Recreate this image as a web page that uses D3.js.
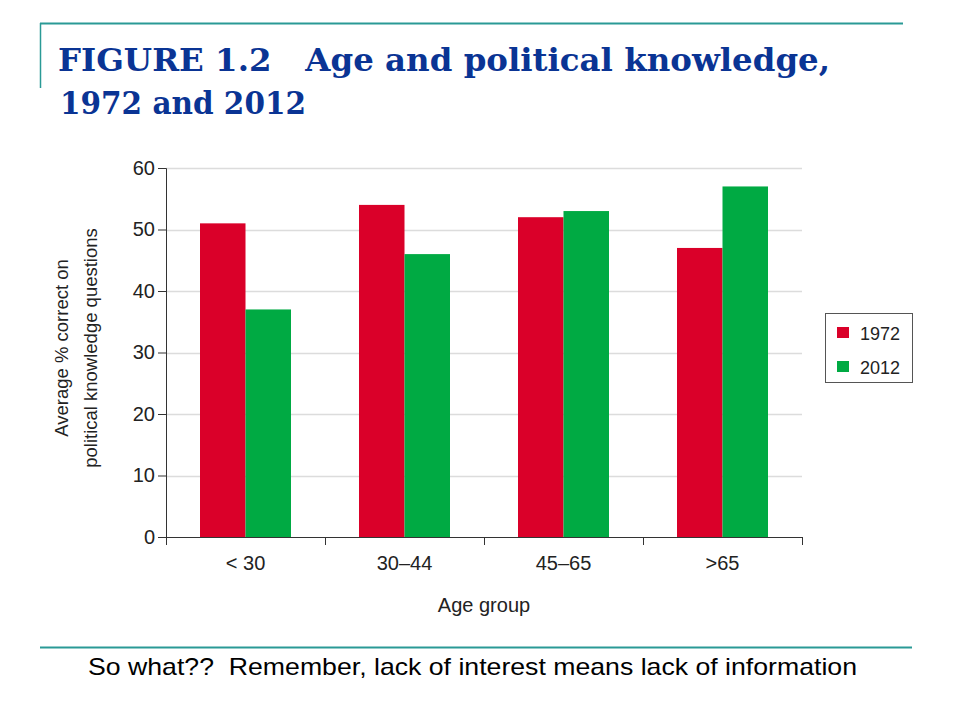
<!DOCTYPE html>
<html><head><meta charset="utf-8">
<script src="https://cdn.jsdelivr.net/npm/d3@7"></script>
<style>body{margin:0;background:#fff}</style>
</head><body>
<svg id="c" width="960" height="720"></svg>
<script>
const categories = ["< 30", "30–44", "45–65", ">65"];
const seriesNames = ["1972", "2012"];
const values1972 = [51, 54, 52, 47];
const values2012 = [37, 46, 53, 57];
const yTicks = [0, 10, 20, 30, 40, 50, 60];
const colors = ["#da0029", "#00aa43"];

const svg = d3.select("#c");
const teal = "#2a9a96";
const sans = "Liberation Sans, Arial, Helvetica";
// slide decorations
svg.append("line").attr("x1", 40).attr("x2", 903).attr("y1", 23.5).attr("y2", 23.5).attr("stroke", teal).attr("stroke-width", 2);
svg.append("line").attr("x1", 40.5).attr("x2", 40.5).attr("y1", 23).attr("y2", 88).attr("stroke", teal).attr("stroke-width", 1.5);
svg.append("line").attr("x1", 40).attr("x2", 912).attr("y1", 647.5).attr("y2", 647.5).attr("stroke", teal).attr("stroke-width", 2);

const titleStyle = t => t.attr("font-family", "DejaVu Serif").attr("font-weight", "bold").attr("font-size", 31).attr("fill", "#0a3494").attr("lengthAdjust", "spacingAndGlyphs");
svg.append("text").attr("x", 58).attr("y", 71).text("FIGURE 1.2   Age and political knowledge,").call(titleStyle).attr("textLength", 772).attr("xml:space", "preserve");
svg.append("text").attr("x", 60).attr("y", 114).text("1972 and 2012").call(titleStyle).attr("textLength", 246);

svg.append("text").attr("x", 88).attr("y", 675).attr("font-family", sans).attr("font-size", 24).attr("fill", "#000")
  .attr("textLength", 769).attr("lengthAdjust", "spacingAndGlyphs")
  .text("So what??  Remember, lack of interest means lack of information").attr("xml:space", "preserve");

// chart
const x0 = d3.scaleBand().domain(categories).range([166, 802]).paddingInner(0).paddingOuter(0);
const x1 = d3.scaleBand().domain(seriesNames).range([34, x0.bandwidth() - 34]);
const y = d3.scaleLinear().domain([0, 60]).range([537, 168]);

const g = svg.append("g");
// gridlines
g.selectAll(".grid").data(yTicks.filter(d => d > 0)).enter().append("line")
  .attr("x1", 166).attr("x2", 802).attr("y1", d => Math.round(y(d)) + 0.5).attr("y2", d => Math.round(y(d)) + 0.5)
  .attr("stroke", "#dcdcdc").attr("stroke-width", 1.5);

const data = categories.map((c, i) => ({cat: c, vals: [values1972[i], values2012[i]]}));
const grp = g.selectAll(".grp").data(data).enter().append("g").attr("transform", d => `translate(${x0(d.cat)},0)`);
grp.selectAll("rect").data(d => d.vals.map((v, j) => ({name: seriesNames[j], v, j}))).enter().append("rect")
  .attr("x", d => x1(d.name)).attr("width", x1.bandwidth())
  .attr("y", d => y(d.v)).attr("height", d => y(0) - y(d.v)).attr("fill", d => colors[d.j]);

// y axis
const yAxis = g.append("g").attr("transform", "translate(166,0)")
  .call(d3.axisLeft(y).tickValues(yTicks).tickSize(8).tickPadding(3));
yAxis.select(".domain").attr("stroke", "#333").attr("d", "M-8,168.5H0.5V537.5H-8");
yAxis.selectAll(".tick line").attr("stroke", "#333");
yAxis.selectAll("text").attr("font-family", sans).attr("font-size", 20).attr("fill", "#222");

// x axis
const xAxis = g.append("g").attr("transform", "translate(0,537)")
  .call(d3.axisBottom(x0).tickSize(0).tickPadding(19));
xAxis.select(".domain").attr("stroke", "#333").attr("d", "M166,0.5H802.5");
xAxis.selectAll("text").attr("font-family", sans).attr("font-size", 20).attr("fill", "#222");
const bounds = categories.map(c => x0(c)).concat([802]);
g.selectAll(".xb").data(bounds).enter().append("line")
  .attr("x1", d => d + 0.5).attr("x2", d => d + 0.5).attr("y1", 537).attr("y2", 545).attr("stroke", "#333");

// axis titles
svg.append("text").attr("x", 484).attr("y", 612).attr("text-anchor", "middle").attr("font-family", sans).attr("font-size", 20).attr("fill", "#222").text("Age group");
const yt = svg.append("text").attr("transform", "translate(0,348) rotate(-90)").attr("text-anchor", "middle").attr("font-family", sans).attr("font-size", 18.5).attr("fill", "#222");
yt.append("tspan").attr("x", 0).attr("y", 68).text("Average % correct on");
yt.append("tspan").attr("x", 0).attr("y", 97).text("political knowledge questions");

// legend
const lg = svg.append("g").attr("transform", "translate(825,313)");
lg.append("rect").attr("x", 0.5).attr("y", 0.5).attr("width", 87).attr("height", 69).attr("fill", "#fff").attr("stroke", "#555");
seriesNames.forEach((n, i) => {
  lg.append("rect").attr("x", 12).attr("y", 14 + i * 34).attr("width", 12).attr("height", 11).attr("fill", colors[i]);
  lg.append("text").attr("x", 35).attr("y", 27 + i * 34).attr("font-family", sans).attr("font-size", 18).attr("fill", "#222").text(n);
});
</script>
</body></html>
